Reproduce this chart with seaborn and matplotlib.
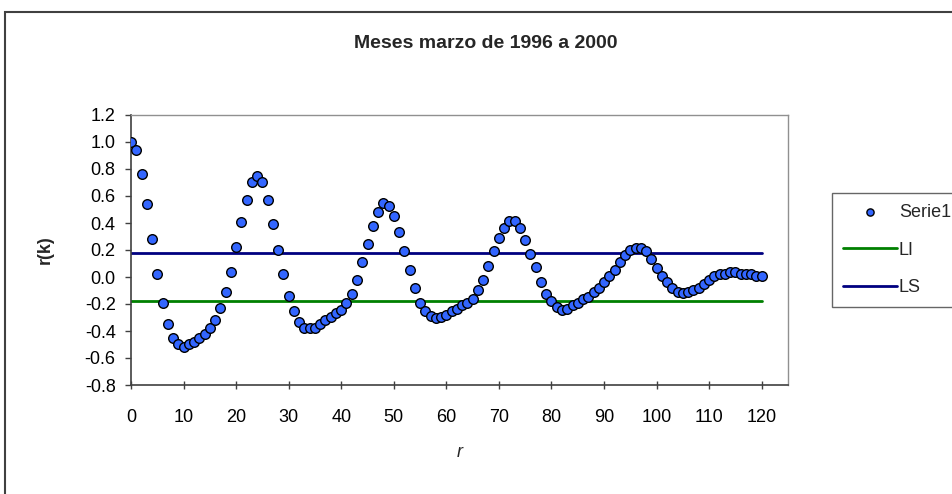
import numpy as np
import pandas as pd
import matplotlib
matplotlib.use("Agg")
import matplotlib.pyplot as plt
import seaborn as sns
from matplotlib.patches import Rectangle

sns.set_style("white")
plt.rcParams['font.family'] = ['Liberation Sans', 'DejaVu Sans']

# autocorrelation values r(k), lags 0..120
lags = list(range(0, 121))
acf = [1.00, 0.94, 0.76, 0.54, 0.28, 0.02, -0.19, -0.345, -0.45, -0.50,
       -0.52, -0.50, -0.48, -0.455, -0.425, -0.375, -0.32, -0.23, -0.11, 0.04,
       0.22, 0.41, 0.57, 0.70, 0.75, 0.705, 0.57, 0.395, 0.20, 0.025,
       -0.14, -0.255, -0.33, -0.375, -0.38, -0.375, -0.345, -0.315, -0.295, -0.27,
       -0.245, -0.195, -0.125, -0.025, 0.11, 0.245, 0.38, 0.485, 0.547, 0.527,
       0.455, 0.335, 0.19, 0.055, -0.08, -0.19, -0.255, -0.29, -0.305, -0.30,
       -0.285, -0.255, -0.235, -0.21, -0.19, -0.16, -0.095, -0.02, 0.085, 0.19,
       0.29, 0.365, 0.415, 0.415, 0.365, 0.275, 0.17, 0.075, -0.04, -0.125,
       -0.18, -0.225, -0.245, -0.235, -0.21, -0.19, -0.165, -0.145, -0.11, -0.08,
       -0.04, 0.01, 0.055, 0.11, 0.16, 0.2, 0.215, 0.215, 0.19, 0.13,
       0.07, 0.01, -0.04, -0.08, -0.11, -0.115, -0.11, -0.10, -0.08, -0.055,
       -0.025, 0.01, 0.02, 0.025, 0.04, 0.04, 0.025, 0.02, 0.02, 0.01,
       0.01]
# confidence limits
li_val = -0.178
ls_val = 0.178
limit_x = [0, 120]

x_ticks = list(range(0, 121, 10))
y_ticks = [-0.8, -0.6, -0.4, -0.2, 0.0, 0.2, 0.4, 0.6, 0.8, 1.0, 1.2]

df = pd.DataFrame({'k': lags, 'r': acf})
lim = pd.DataFrame({'k': limit_x, 'LI': [li_val] * 2, 'LS': [ls_val] * 2})

W, H = 953, 494
fig = plt.figure(figsize=(W / 100, H / 100), dpi=100)
ax = fig.add_axes([131 / W, (H - 385) / H, 657 / W, 270 / H])

# limit lines
sns.lineplot(data=lim, x='k', y='LI', ax=ax, color='#008000', linewidth=2.0, label='LI', zorder=2)
sns.lineplot(data=lim, x='k', y='LS', ax=ax, color='#000080', linewidth=2.0, label='LS', zorder=2)
# series
sns.scatterplot(data=df, x='k', y='r', ax=ax, color='#3366ff', edgecolor='black',
                linewidth=1.0, s=48, label='Serie1', zorder=3)
handles, labels = ax.get_legend_handles_labels()
ax.legend_.remove()

ax.set_xlim(0, 125)
ax.set_ylim(-0.8, 1.2)
ax.set_xticks(x_ticks)
ax.set_yticks(y_ticks)
ax.set_yticklabels(['%.1f' % v for v in y_ticks])
ax.tick_params(axis='both', labelsize=13, colors='black')
ax.tick_params(axis='y', direction='out', length=4, width=1, color='#404040', left=True, pad=7)
ax.tick_params(axis='x', direction='inout', length=6, width=1, color='#404040', bottom=True, pad=14)

for side in ['top', 'right']:
    ax.spines[side].set_color('#909090')
    ax.spines[side].set_linewidth(1.0)
for side in ['left', 'bottom']:
    ax.spines[side].set_color('#404040')
    ax.spines[side].set_linewidth(1.2)

ax.set_xlabel('r', fontsize=13, style='italic')
ax.set_ylabel('r(k)', fontsize=13, fontweight='bold')
ax.xaxis.set_label_coords(460 / W, 1 - 452 / H, transform=fig.transFigure)
ax.yaxis.set_label_coords(45 / W, 1 - 250 / H, transform=fig.transFigure)
ax.xaxis.label.set_va('center')
ax.yaxis.label.set_va('center')
fig.text(486 / W, 1 - 43 / H, 'Meses marzo de 1996 a 2000', fontsize=14,
         fontweight='bold', ha='center', va='center')

# legend: series first, then limits
order = [labels.index('Serie1'), labels.index('LI'), labels.index('LS')]
leg = fig.legend([handles[i] for i in order], [labels[i] for i in order],
                 loc='upper left', bbox_to_anchor=(832 / W, 1 - 193 / H),
                 fontsize=13, frameon=True, fancybox=False, borderpad=0.6,
                 handlelength=3.0, handletextpad=0.1, labelspacing=1.15,
                 borderaxespad=0, markerscale=0.75)
leg.get_frame().set_edgecolor('#404040')
leg.get_frame().set_linewidth(1.0)

# chart area border
fig.patches.append(Rectangle((5 / W, -0.05), 1.2, 1 - 12 / H + 0.05,
                             transform=fig.transFigure, fill=False,
                             edgecolor='#404040', linewidth=1.5))

fig.savefig('out.png', dpi=100)
